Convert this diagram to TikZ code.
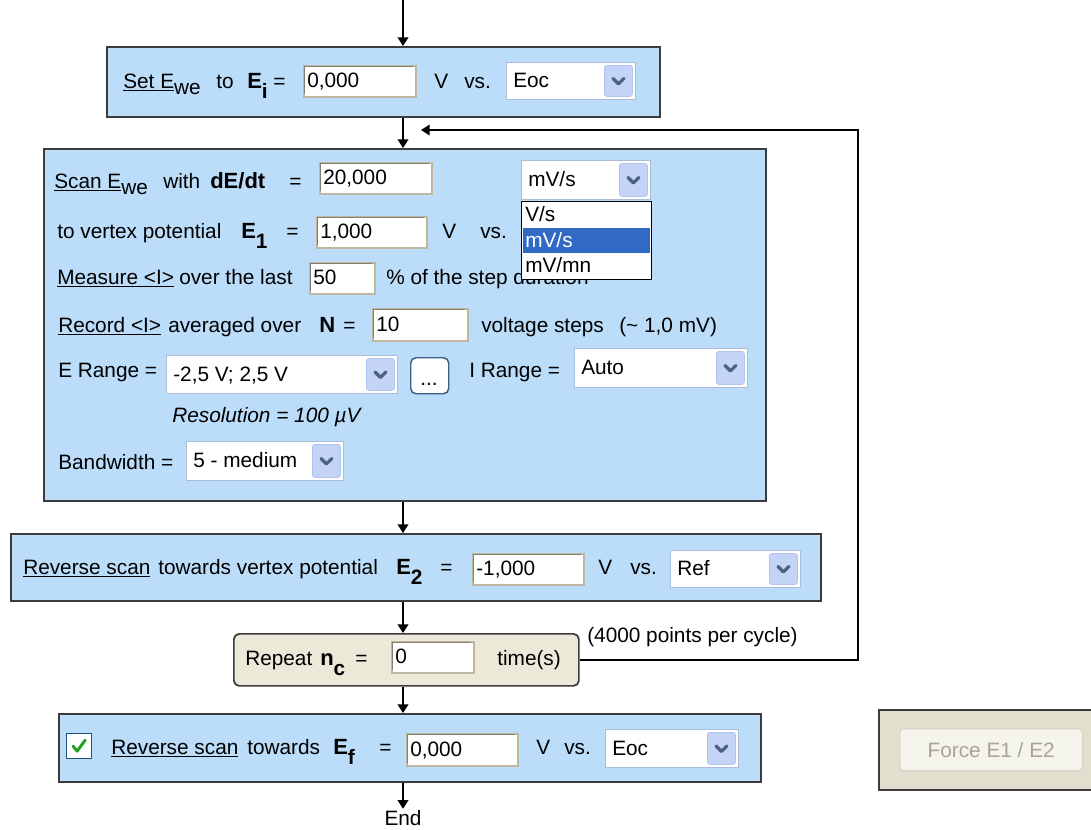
\documentclass[tikz,border=0pt]{standalone}
\usepackage{fontspec}
\setmainfont{Liberation Sans}
\usetikzlibrary{arrows.meta,calc}
\definecolor{panelblue}{HTML}{BBDDFA}
\definecolor{panelborder}{HTML}{3C3C3C}
\definecolor{beige}{HTML}{ECE9D8}
\definecolor{forcebg}{HTML}{E2DFCF}
\definecolor{fieldborder}{HTML}{BDB7A2}
\definecolor{ddborder}{HTML}{A9BCD8}
\definecolor{ddbtn}{HTML}{C4D3F8}
\definecolor{ddbtnborder}{HTML}{B2C4EE}
\definecolor{chevron}{HTML}{4D6185}
\definecolor{selblue}{HTML}{316AC5}
\definecolor{checkgreen}{HTML}{21A121}
\definecolor{checkborder}{HTML}{1C5180}
\definecolor{graytext}{HTML}{A8A592}
\definecolor{btnborder}{HTML}{D9D5C5}
\definecolor{btnfill}{HTML}{F4F3EC}
\definecolor{dotsborder}{HTML}{3A5F88}

\newcommand\fs{\fontsize{15.6}{18}\selectfont}
\newcommand\bsym[2]{{\fontsize{16.5}{18}\selectfont\bfseries #1}\raisebox{-8pt}{\fontsize{15.6}{18}\selectfont\bfseries #2}}
\newcommand\lowsub[1]{\raisebox{-5pt}{#1}}

% rectangular node from corner to corner
\newcommand\rbox[6]{\node[#6, anchor=north west, minimum width={((#4)-(#2))*0.75pt}, minimum height={((#5)-(#3))*0.75pt}] (#1) at ({#2},{#3}) {};}
% text field
\newcommand\fld[6]{\rbox{#1}{#2}{#3}{#4}{#5}{fieldbox}
  \draw[fieldborder!70!black, line width=0.8pt] ({#2+1.5},{#5-2}) -- ({#2+1.5},{#3+1.5}) -- ({#4-2},{#3+1.5});
  \node[txt] (#1-t) at ({#2+4},{(#3+#5)/2+7}) {#6};}
% dropdown
\newcommand\ddl[6]{\rbox{#1}{#2}{#3}{#4}{#5}{ddbox}
  \rbox{#1-b}{#4-31}{#3+3}{#4-3}{#5-3}{ddbutton}
  \draw[chevron, line width=2.4pt, line cap=round, line join=round]
    ($(#1-b.center)+(-5.5,-2.5)$) -- ($(#1-b.center)+(0,3)$) -- ($(#1-b.center)+(5.5,-2.5)$);
  \node[txt] (#1-t) at ({#2+7},{(#3+#5)/2+7}) {#6};}

\tikzset{
  txt/.style={anchor=base west, inner sep=0pt, font=\fs},
  panel/.style={draw=panelborder, line width=1.5pt, fill=panelblue, inner sep=0pt},
  repeatbox/.style={draw=panelborder, line width=1.3pt, fill=beige, rounded corners=4pt, inner sep=0pt},
  fieldbox/.style={draw=fieldborder, line width=1.3pt, fill=white, inner sep=0pt},
  ddbox/.style={draw=ddborder, line width=1pt, fill=white, inner sep=0pt},
  ddbutton/.style={draw=ddbtnborder, line width=0.6pt, fill=ddbtn, rounded corners=2pt, inner sep=0pt},
  conn/.style={draw=black, line width=1.1pt},
  arr/.style={conn, -{Triangle[length=6.5pt,width=8pt]}},
}

\begin{document}
\begin{tikzpicture}[x=0.75pt,y=-0.75pt]
\clip (0,0) rectangle (1091,829);
\fill[white] (0,0) rectangle (1091,829);

% ---------- Box 1 ----------
\rbox{b1}{106}{46}{659}{116}{panel}
\node[txt] (s1a) at (123,88) {\underline{Set E}\lowsub{we}};
\node[txt] (s1b) at (216,88) {to};
\node[txt] (s1c) at (247,88) {\bsym{E}{i}};
\node[txt] (s1d) at (273,88) {=};
\fld{f1}{303}{65}{415}{96}{0,000}
\node[txt] (s1e) at (434,88) {V};
\node[txt] (s1f) at (464,88) {vs.};
\ddl{d1}{506}{62}{635}{99}{Eoc}

% ---------- Box 2 ----------
\rbox{b2}{43}{148}{765}{500}{panel}
% row 1
\node[txt] (r1a) at (54,188) {\underline{Scan E}\lowsub{we}};
\node[txt] (r1b) at (163,188) {with};
\node[txt] (r1c) at (210,188) {{\fontsize{16.5}{18}\selectfont\bfseries dE/dt}};
\node[txt] (r1d) at (289,188) {=};
\fld{f2}{319}{162}{431}{193}{20,000}
\ddl{d2}{521}{160}{650}{199}{mV/s}
% row 2
\node[txt] (r2a) at (57,238) {to vertex potential};
\node[txt] (r2b) at (241,238) {\bsym{E}{1}};
\node[txt] (r2c) at (286,238) {=};
\fld{f3}{316}{216}{426}{247}{1,000}
\node[txt] (r2d) at (442,238) {V};
\node[txt] (r2e) at (480,238) {vs.};
% row 3
\node[txt] (r3a) at (57,284) {\underline{Measure <I>}};
\node[txt] (r3b) at (179,284) {over the last};
\fld{f4}{309}{262}{374}{293}{50}
\node[txt] (r3c) at (386,284) {\% of the step duration};
% row 4
\node[txt] (r4a) at (58,332) {\underline{Record <I>}};
\node[txt] (r4b) at (168,332) {averaged over};
\node[txt] (r4c) at (319,332) {{\fontsize{16.5}{18}\selectfont\bfseries N}};
\node[txt] (r4d) at (343,332) {=};
\fld{f5}{372}{308}{467}{340}{10}
\node[txt] (r4e) at (481,332) {voltage steps};
\node[txt] (r4f) at (619,332) {(\textasciitilde\ 1,0 mV)};
% row 5
\node[txt] (r5a) at (58,377) {E Range =};
\ddl{d3}{166}{355}{397}{393}{-2,5 V; 2,5 V}
\rbox{dots}{410}{357}{448}{393}{draw=dotsborder, line width=1.1pt, fill=white, rounded corners=4pt, inner sep=0pt}
\node[txt, anchor=base] (dots-t) at (429,385) {...};
\node[txt] (r5b) at (469,377) {I Range =};
\ddl{d4}{574}{348}{747}{387}{Auto}
% row 6
\node[txt] (r6a) at (172,422) {\itshape Resolution = 100 µV};
% row 7
\node[txt] (r7a) at (58,469) {Bandwidth =};
\ddl{d5}{186}{441}{343}{480}{5 - medium}

% open list of units
\rbox{lst}{521}{201}{651}{279}{draw=black, line width=1.1pt, fill=white, inner sep=0pt}
\fill[selblue] (522.5,228) rectangle (649.5,253);
\node[txt] (l1) at (525,221) {V/s};
\node[txt, text=white] (l2) at (525,247) {mV/s};
\node[txt] (l3) at (525,272) {mV/mn};

% ---------- Box 3 ----------
\rbox{b3}{10}{533}{820}{600}{panel}
\node[txt] (q1) at (23,574) {\underline{Reverse scan}};
\node[txt] (q2) at (158,574) {towards vertex potential};
\node[txt] (q3) at (396,574) {\bsym{E}{2}};
\node[txt] (q4) at (440,574) {=};
\fld{f6}{472}{553}{583}{584}{-1,000}
\node[txt] (q5) at (598,574) {V};
\node[txt] (q6) at (630,574) {vs.};
\ddl{d6}{670}{550}{800}{587}{Ref}

% ---------- Repeat ----------
\rbox{rep}{233}{633}{578}{685}{repeatbox}
\node[txt] (p1) at (245,665) {Repeat};
\node[txt] (p2) at (320,665) {\bsym{n}{c}};
\node[txt] (p3) at (355,665) {=};
\fld{f7}{391}{641}{473}{672}{0}
\node[txt] (p4) at (497,665) {time(s)};
\node[txt] (p5) at (587,642) {(4000 points per cycle)};

% ---------- Box 4 ----------
\rbox{b4}{58}{713}{760}{781}{panel}
\rbox{chk}{66}{733}{91}{758}{draw=checkborder, line width=1pt, fill=white, inner sep=0pt}
\draw[checkgreen, line width=2.2pt, line cap=round, line join=round]
  ($(chk.center)+(-6,0)$) -- ($(chk.center)+(-2,5)$) -- ($(chk.center)+(6,-6)$);
\node[txt] (w1) at (111,754) {\underline{Reverse scan}};
\node[txt] (w2) at (247,754) {towards};
\node[txt] (w3) at (333,754) {\bsym{E}{f}};
\node[txt] (w4) at (379,754) {=};
\fld{f8}{406}{733}{517}{765}{0,000}
\node[txt] (w5) at (536,754) {V};
\node[txt] (w6) at (564,754) {vs.};
\ddl{d7}{605}{729}{738}{767}{Eoc}

\node[font=\fs, inner sep=1pt] (endn) at (403,818) {End};

% ---------- Force panel ----------
\rbox{force}{878}{709}{1100}{789}{draw=panelborder, line width=1.5pt, fill=forcebg, inner sep=0pt}
\rbox{forcebtn}{899}{728}{1082}{770}{draw=btnborder, line width=1pt, fill=btnfill, rounded corners=3pt, inner sep=0pt}
\node[font=\fs, text=graytext, inner sep=0pt] (forcet) at (forcebtn.center) {Force E1 / E2};

% ---------- Connectors ----------
\coordinate (top) at (403,0);
\coordinate (lp) at (858,130);
\coordinate (lpend) at (421,130);
\draw[arr] (top) -- (top |- b1.north);
\draw[arr] (top |- b1.south) -- (top |- b2.north);
\draw[arr] (top |- b2.south) -- (top |- b3.north);
\draw[arr] (top |- b3.south) -- (top |- rep.north);
\draw[arr] (top |- rep.south) -- (top |- b4.north);
\draw[arr] (top |- b4.south) -- (endn.north);
\draw[arr] (rep.east) -| (lp) -- (lpend);
\end{tikzpicture}
\end{document}
